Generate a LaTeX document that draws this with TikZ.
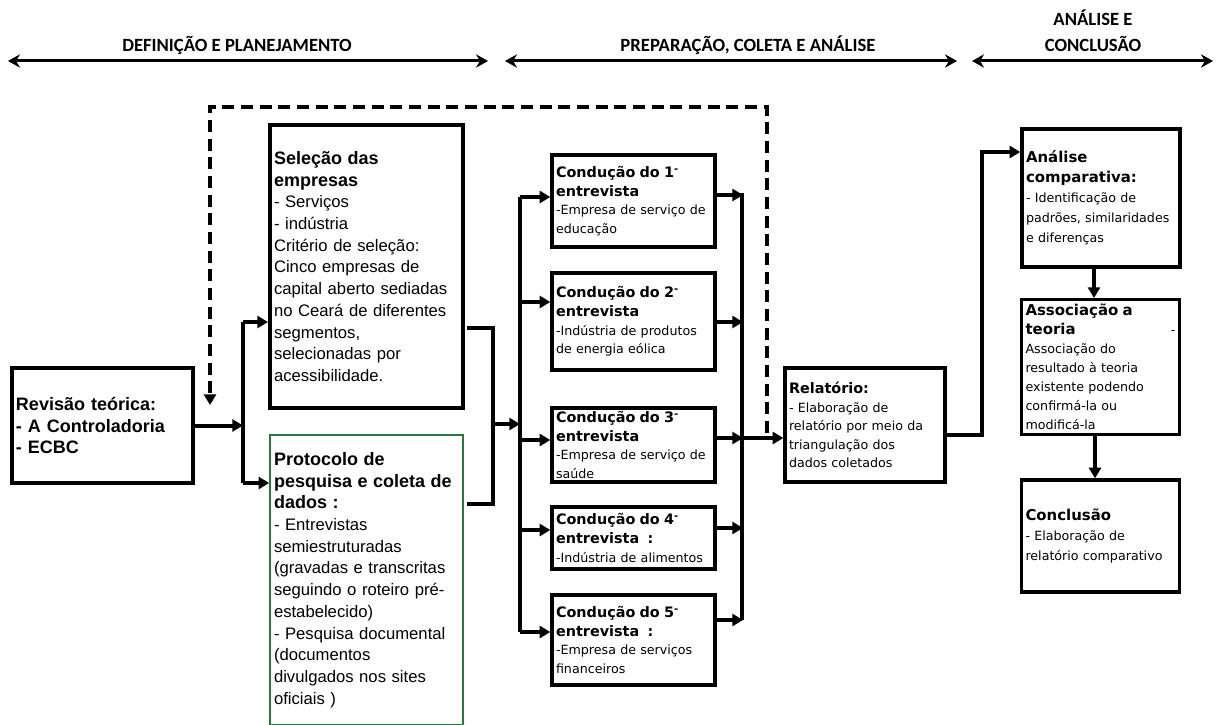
\documentclass[tikz,border=0pt]{standalone}
\usepackage{fontspec}
\setmainfont{Liberation Sans}
\newfontfamily\tahoma{DejaVu Sans}
\newfontfamily\calibri{Carlito}
\usetikzlibrary{arrows.meta}
\definecolor{boxgreen}{RGB}{40,120,64}
\newcommand\ttl[1]{{\bfseries\fontsize{13.5}{16.3}\selectfont #1}}
\newcommand\stl[1]{{\bfseries\fontsize{10.8}{13.9}\selectfont #1}}
\newcommand\etl[1]{{\bfseries\fontsize{11.2}{15}\selectfont #1}}

\begin{document}
\begin{tikzpicture}[
    x=0.75pt, y=-0.75pt,
    hdr/.style={font=\calibri\bfseries\fontsize{14}{19.5}\selectfont, align=center},
    hdrarr/.style={line width=2.25pt, {Stealth[length=9pt,width=10pt]}-{Stealth[length=9pt,width=10pt]}},
    revbox/.style={draw, line width=3pt, inner sep=3pt, align=left,
      font=\bfseries\fontsize{13.5}{16}\selectfont},
    bigbox/.style={draw, line width=3pt, inner sep=3pt, align=left,
      minimum width=144.75pt, text width=138.75pt, font=\fontsize{12.5}{16.3}\selectfont},
    stepbox/.style={draw, line width=2.5pt, inner xsep=3pt, inner ysep=0.5pt, align=left,
      minimum width=122.25pt, text width=116.25pt, font=\tahoma\fontsize{9.5}{13.9}\selectfont},
    endbox/.style={draw, line width=2.5pt, inner xsep=3pt, inner ysep=0.5pt, align=left,
      minimum width=118.5pt, text width=112.5pt, font=\tahoma\fontsize{9.5}{15}\selectfont},
    bus/.style={line width=3pt},
    arr/.style={line width=3pt, -{Triangle[length=8pt,width=9pt]}},
    feedback/.style={line width=3pt, dash pattern=on 9pt off 5pt, -{Triangle[length=8pt,width=9pt]}},
  ]
  \useasboundingbox (0,0) rectangle (1216,724);

  % phases
  \node[hdr] (h1) at (237,45) {DEFINIÇÃO E PLANEJAMENTO};
  \node[hdr] (h2) at (748,45) {PREPARAÇÃO, COLETA E ANÁLISE};
  \node[hdr] (h3) at (1093,31) {ANÁLISE E\\CONCLUSÃO};
  \draw[hdrarr] (8,61) -- (488,61);
  \draw[hdrarr] (505,61) -- (957,61);
  \draw[hdrarr] (972,61) -- (1213,61);

  % definition
  \node[revbox, minimum width=135.75pt, minimum height=86.25pt, text width=129.75pt] (rev)
    at (102.5,425.5) {Revisão teórica:\\- A Controladoria\\- ECBC};
  \node[bigbox, minimum height=212.25pt] (sel) at (366.5,266.5) {%
    \ttl{Seleção das}\\\ttl{empresas}\\- Serviços\\- indústria\\Critério de seleção:\\
    Cinco empresas de\\capital aberto sediadas\\no Ceará de diferentes\\segmentos,\\
    selecionadas por\\acessibilidade.};
  \node[bigbox, draw=boxgreen, line width=1.2pt, minimum height=217.5pt] (prot) at (366.5,580) {%
    \ttl{Protocolo de}\\\ttl{pesquisa e coleta de}\\\ttl{dados :}\\- Entrevistas\\
    semiestruturadas\\(gravadas e transcritas\\seguindo o roteiro pré-\\estabelecido)\\
    - Pesquisa documental\\(documentos\\divulgados nos sites\\oficiais )};

  % interviews
  \node[stepbox, minimum height=69pt] (c1) at (633.5,201) {%
    \stl{Condução do 1\textsuperscript{-}}\\\stl{entrevista}\\-Empresa de serviço de\\educação};
  \node[stepbox, minimum height=72.75pt] (c2) at (633.5,321.5) {%
    \stl{Condução do 2\textsuperscript{-}}\\\stl{entrevista}\\-Indústria de produtos\\de energia eólica};
  \node[stepbox, minimum height=55.5pt] (c3) at (633.5,445) {%
    \stl{Condução do 3\textsuperscript{-}}\\\stl{entrevista}\\-Empresa de serviço de\\saúde};
  \node[stepbox, minimum height=46.5pt] (c4) at (633.5,538) {%
    \stl{Condução do 4\textsuperscript{-}}\\\stl{entrevista~~:}\\-Indústria de alimentos};
  \node[stepbox, minimum height=67.5pt] (c5) at (633.5,640) {%
    \stl{Condução do 5\textsuperscript{-}}\\\stl{entrevista~~:}\\-Empresa de serviços\\financeiros};
  \node[stepbox, minimum width=120pt, text width=114pt, minimum height=85.5pt] (rel) at (865,425) {%
    \stl{Relatório:}\\- Elaboração de\\relatório por meio da\\triangulação dos\\dados coletados};

  % conclusion
  \node[endbox, minimum height=103.5pt] (ana) at (1101,198) {%
    \etl{Análise}\\\etl{comparativa:}\\- Identificação de\\padrões, similaridades\\e diferenças};
  \node[endbox, minimum height=101pt, font=\tahoma\fontsize{9.5}{14.3}\selectfont] (aso) at (1100.5,367) {%
    \etl{Associação a}\\\etl{teoria}\hfill-\\Associação do\\resultado à teoria\\
    existente podendo\\confirmá-la ou\\modificá-la};
  \node[endbox, minimum height=84pt] (con) at (1100.5,536) {%
    \etl{Conclusão}\\- Elaboração de\\relatório comparativo};

  % left fork
  \coordinate (fa) at (243,322);
  \coordinate (fb) at (243,483);
  \draw[arr] (rev.east) -- (rev.east -| fa);
  \draw[bus] (fa) -- (fb);
  \draw[arr] (fa) -- (fa -| sel.west);
  \draw[arr] (fb) -- (fb -| prot.west);

  % join to interviews
  \coordinate (ja) at (467,328);
  \coordinate (jb) at (467,504);
  \coordinate (jm) at (493,424);
  \draw[bus] (ja) -| (jm |- jb) -- (jb);
  \draw[arr] (jm) -- (520,424);
  \draw[bus] (520,197) -- (520,632);
  \foreach \n/\y in {1/197,2/302,3/440,4/530,5/632}
    \draw[arr] (520,\y) -- (c\n.west |- 0,\y);
  \foreach \n/\y in {1/195,2/322,3/438,4/528,5/620}
    \draw[arr] (c\n.east |- 0,\y) -- (743,\y);
  \draw[bus] (742,193) -- (742,620);
  \draw[arr] (742,438) -- (rel.west |- 0,438);

  % feedback loop
  \draw[feedback] (767,433) |- (210,107) -- (210,405);

  \draw[arr] (rel.east |- 0,435) -| (982,152) -- (ana.west |- 0,152);
  \draw[arr] (ana.south -| 1094,0) -- (aso.north -| 1094,0);
  \draw[arr] (aso.south -| 1095,0) -- (con.north -| 1095,0);
\end{tikzpicture}
\end{document}
